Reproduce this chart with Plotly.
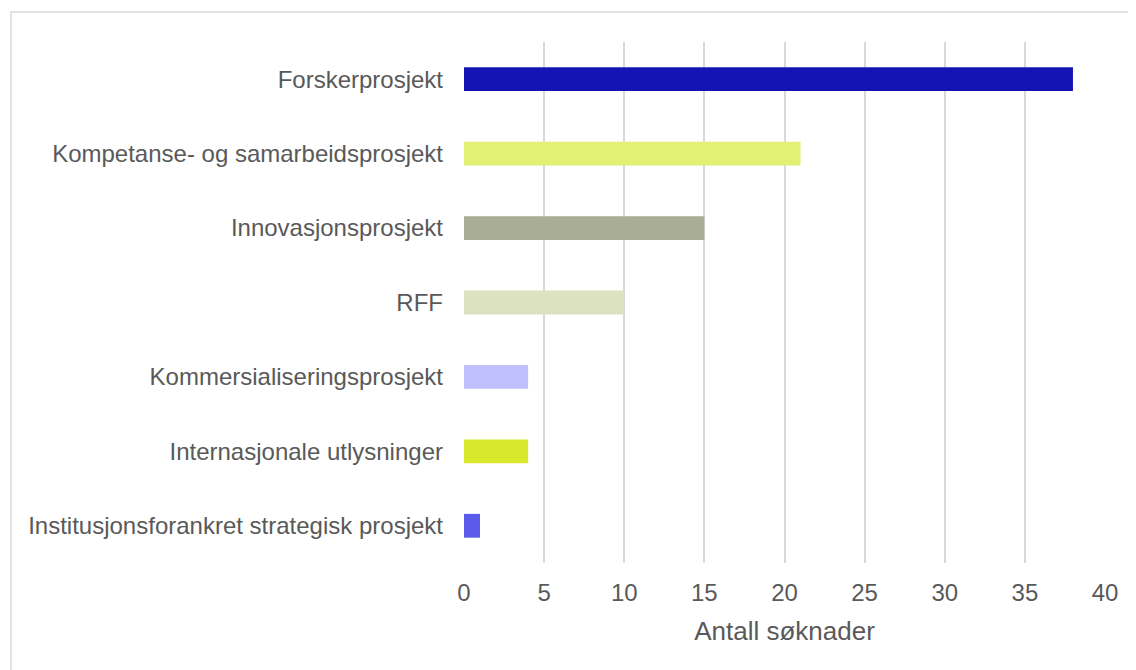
import plotly.graph_objects as go

# Søknader per prosjekttype
categories = [
    "Forskerprosjekt",
    "Kompetanse- og samarbeidsprosjekt",
    "Innovasjonsprosjekt",
    "RFF",
    "Kommersialiseringsprosjekt",
    "Internasjonale utlysninger",
    "Institusjonsforankret strategisk prosjekt",
]
counts = [38, 21, 15, 10, 4, 4, 1]
bar_colors = ["#1414B4", "#E2F074", "#A9AD94", "#DCE2C0", "#C0C0FF", "#D8E82C", "#5A5AEB"]
x_ticks = [0, 5, 10, 15, 20, 25, 30, 35, 40]

TEXT_COLOR = "#595959"
GRID_COLOR = "#d9d9d9"
FONT = "Liberation Sans, Arial, sans-serif"

fig = go.Figure(
    go.Bar(
        y=categories,
        x=counts,
        orientation="h",
        marker=dict(color=bar_colors, line=dict(width=0)),
        hovertemplate="<b>%{y}</b><br>%{x}<extra></extra>",
    )
)

# page body has an 8px default margin, so the figure is 8px smaller
fig.update_layout(
    width=1128,
    height=662,
    paper_bgcolor="white",
    plot_bgcolor="white",
    showlegend=False,
    bargap=0.68,
    margin=dict(l=456, r=31, t=34, b=107),
    font=dict(family=FONT, color=TEXT_COLOR, size=24),
    xaxis=dict(
        range=[0, 40],
        tickvals=x_ticks,
        showgrid=True,
        gridcolor=GRID_COLOR,
        gridwidth=2,
        zeroline=False,
        showline=False,
        ticks="",
        ticklabelstandoff=13,
        tickfont=dict(size=24, color=TEXT_COLOR),
        title=dict(text="Antall søknader", font=dict(size=26, color=TEXT_COLOR), standoff=16),
    ),
    yaxis=dict(
        categoryorder="array",
        categoryarray=categories,
        autorange="reversed",
        showgrid=False,
        zeroline=False,
        showline=False,
        ticks="",
        ticklabelstandoff=20,
        tickfont=dict(size=24, color=TEXT_COLOR),
    ),
    shapes=[
        # light chart-area frame (right/bottom edges fall outside the window)
        dict(
            type="rect", xref="paper", yref="paper",
            x0=-0.7067, x1=1.2, y0=-0.3, y1=1.0576,
            line=dict(color=GRID_COLOR, width=1.5),
            fillcolor="rgba(0,0,0,0)", layer="below",
        )
    ],
)

fig.write_html("out.html")
